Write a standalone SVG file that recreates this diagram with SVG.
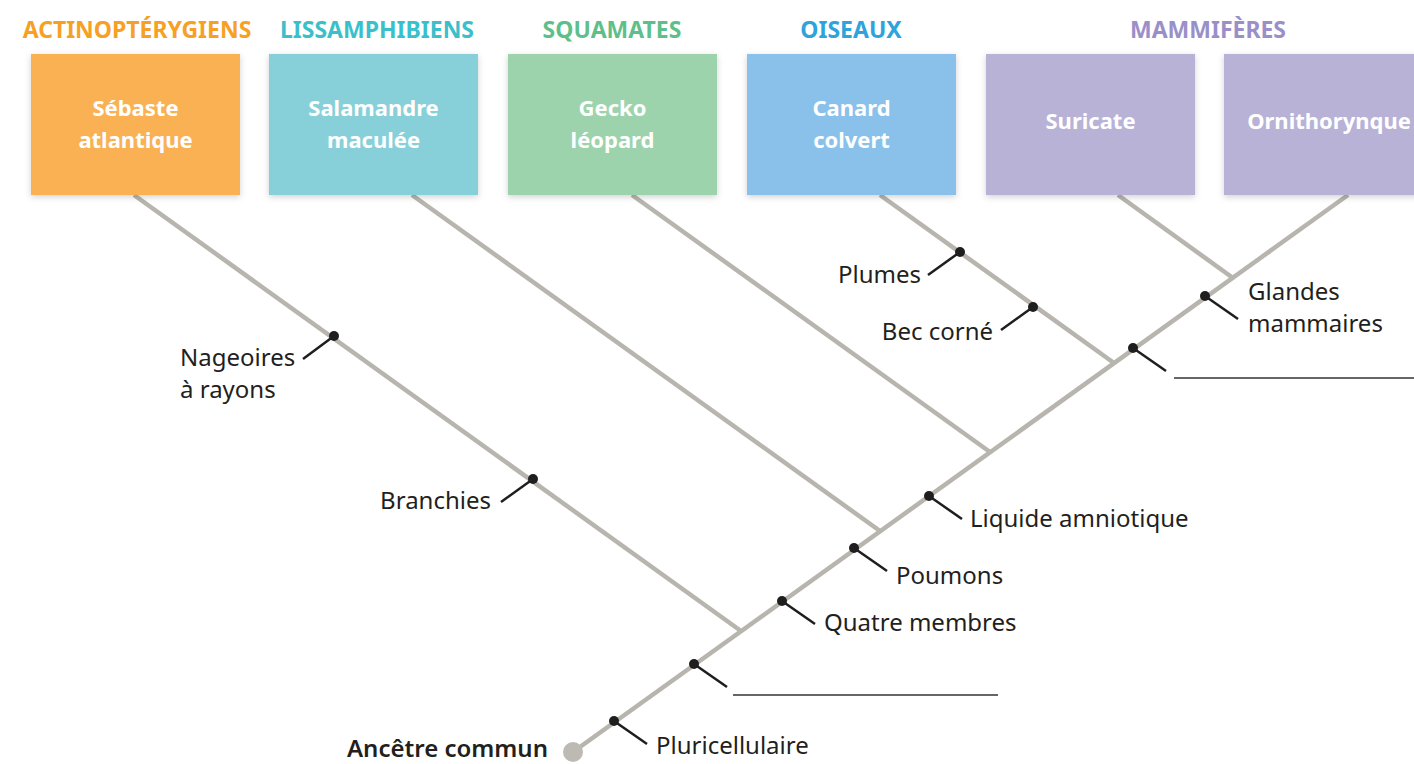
<svg xmlns="http://www.w3.org/2000/svg" width="1414" height="764" viewBox="0 0 1414 764">
<defs>
<filter id="sh" x="-10%" y="-10%" width="120%" height="125%">
<feDropShadow dx="0" dy="2" stdDeviation="3" flood-color="#000" flood-opacity="0.18"/>
</filter>
<style>
.hd{font-family:"Noto Sans","Liberation Sans",sans-serif;font-weight:700;font-size:23px;text-anchor:middle}
.bx{filter:url(#sh)}
.bt{font-family:"Noto Sans","Liberation Sans",sans-serif;font-weight:700;font-size:22px;fill:#fff;text-anchor:middle}
.lb{font-family:"Noto Sans","Liberation Sans",sans-serif;font-size:24px;fill:#231f20}
.br{stroke:#b8b5ae;stroke-width:4.5;fill:none;stroke-linecap:butt}
.ld{stroke:#1e1e1e;stroke-width:2.5;fill:none}
.dt{fill:#1e1e1e}
.bl{stroke:#333;stroke-width:1.5}
</style>
</defs>
<rect width="1414" height="764" fill="#fff"/>
<g id="headers">
<text class="hd" x="137" y="38" fill="#f6a024">ACTINOPTÉRYGIENS</text>
<text class="hd" x="377" y="38" fill="#3bbfca">LISSAMPHIBIENS</text>
<text class="hd" x="612" y="38" fill="#5fbf8a">SQUAMATES</text>
<text class="hd" x="851" y="38" fill="#2ea3dc">OISEAUX</text>
<text class="hd" x="1208" y="38" fill="#9a8fc8">MAMMIFÈRES</text>
</g>
<g id="connectors">
<line class="br" x1="573" y1="752" x2="1348" y2="195"/>
<line class="br" x1="134" y1="195" x2="741" y2="631"/>
<line class="br" x1="412" y1="195" x2="880" y2="531"/>
<line class="br" x1="632" y1="195" x2="990" y2="452"/>
<line class="br" x1="880" y1="195" x2="1114" y2="363"/>
<line class="br" x1="1118" y1="195" x2="1233" y2="278"/>
</g>
<g id="box-sebaste"><rect class="bx" x="31" y="54" width="209" height="141" fill="#f9b152"/><text class="bt" x="135.5" y="116">Sébaste</text><text class="bt" x="135.5" y="148">atlantique</text></g>
<g id="box-salamandre"><rect class="bx" x="269" y="54" width="209" height="141" fill="#88d0d9"/><text class="bt" x="373.5" y="116">Salamandre</text><text class="bt" x="373.5" y="148">maculée</text></g>
<g id="box-gecko"><rect class="bx" x="508" y="54" width="209" height="141" fill="#9cd3ad"/><text class="bt" x="612.5" y="116">Gecko</text><text class="bt" x="612.5" y="148">léopard</text></g>
<g id="box-canard"><rect class="bx" x="747" y="54" width="209" height="141" fill="#89c1ea"/><text class="bt" x="851.5" y="116">Canard</text><text class="bt" x="851.5" y="148">colvert</text></g>
<g id="box-suricate"><rect class="bx" x="986" y="54" width="209" height="141" fill="#b7b2d6"/><text class="bt" x="1090.5" y="129">Suricate</text></g>
<g id="box-ornithorynque"><rect class="bx" x="1224" y="54" width="209" height="141" fill="#b7b2d6"/><text class="bt" x="1329" y="129">Ornithorynque</text></g>
<g id="char-nageoires"><line class="ld" x1="334" y1="336" x2="303" y2="359"/><circle class="dt" cx="334" cy="336" r="5"/><text class="lb" x="180" y="366">Nageoires</text><text class="lb" x="180" y="398">à rayons</text></g>
<g id="char-branchies"><line class="ld" x1="533" y1="479" x2="501" y2="502"/><circle class="dt" cx="533" cy="479" r="5"/><text class="lb" x="491" y="509" text-anchor="end">Branchies</text></g>
<g id="char-plumes"><line class="ld" x1="960" y1="252" x2="928" y2="275"/><circle class="dt" cx="960" cy="252" r="5"/><text class="lb" x="921" y="283" text-anchor="end">Plumes</text></g>
<g id="char-bec"><line class="ld" x1="1033" y1="307" x2="1001" y2="330"/><circle class="dt" cx="1033" cy="307" r="5"/><text class="lb" x="993" y="340" text-anchor="end">Bec corné</text></g>
<g id="char-blank-top"><line class="ld" x1="1133" y1="348" x2="1166" y2="371"/><circle class="dt" cx="1133" cy="348" r="5"/><line class="bl" x1="1174" y1="378" x2="1414" y2="378"/></g>
<g id="char-glandes"><line class="ld" x1="1205" y1="296" x2="1238" y2="319"/><circle class="dt" cx="1205" cy="296" r="5"/><text class="lb" x="1248" y="300">Glandes</text><text class="lb" x="1248" y="332">mammaires</text></g>
<g id="char-liquide"><line class="ld" x1="929" y1="496" x2="962" y2="519"/><circle class="dt" cx="929" cy="496" r="5"/><text class="lb" x="970" y="527">Liquide amniotique</text></g>
<g id="char-poumons"><line class="ld" x1="854" y1="548" x2="887" y2="571"/><circle class="dt" cx="854" cy="548" r="5"/><text class="lb" x="896" y="584">Poumons</text></g>
<g id="char-quatre"><line class="ld" x1="782" y1="601" x2="815" y2="624"/><circle class="dt" cx="782" cy="601" r="5"/><text class="lb" x="824" y="631">Quatre membres</text></g>
<g id="char-blank-bottom"><line class="ld" x1="694" y1="664" x2="727" y2="687"/><circle class="dt" cx="694" cy="664" r="5"/><line class="bl" x1="733" y1="695" x2="998" y2="695"/></g>
<g id="char-pluri"><line class="ld" x1="614" y1="721" x2="647" y2="744"/><circle class="dt" cx="614" cy="721" r="5"/><text class="lb" x="656" y="754">Pluricellulaire</text></g>
<g id="root"><circle cx="573" cy="752" r="10" fill="#bdbab4"/><text class="lb" x="548" y="757" text-anchor="end" font-weight="600" font-size="23">Ancêtre commun</text></g>
</svg>
